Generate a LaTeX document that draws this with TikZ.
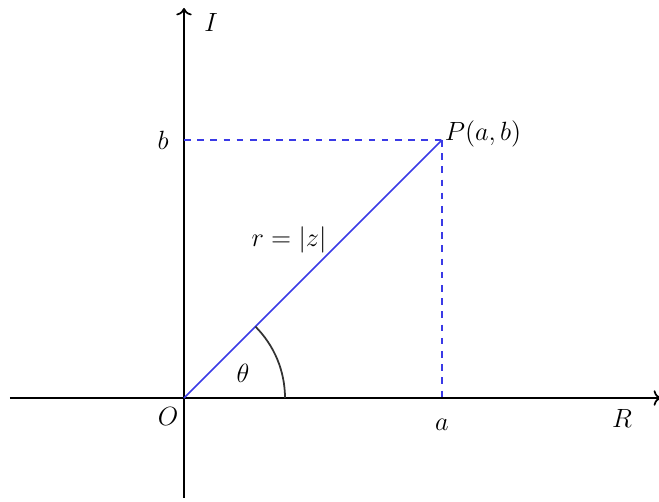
\documentclass[tikz,border=0pt]{standalone}
\usepackage{tikz}
\usetikzlibrary{arrows.meta,positioning}
\usepackage{xcolor}
\definecolor{vecblue}{HTML}{3A3AE6}

\begin{document}
\begin{tikzpicture}[
    x=0.455pt,y=0.455pt,
    axis/.style={->,thick,draw=black},
    vec/.style={thick,draw=vecblue},
    guide/.style={thick,dashed,draw=vecblue},
    lab/.style={font=\large}
]
\useasboundingbox (-184,-104) rectangle (475,398);
\coordinate (O) at (0,0);
\coordinate (xl) at (-174,0);
\coordinate (xr) at (477,0);
\coordinate (yb) at (0,-100);
\coordinate (yt) at (0,390);
\coordinate (P) at (258,258);
\coordinate (A) at (258,0);
\coordinate (B) at (0,258);
\draw[axis] (xl)--(xr);
\draw[axis] (yb)--(yt);
\draw[guide] (B)--(P);
\draw[guide] (P)--(A);
\draw[vec] (O)--(P);
\draw[thick,draw=black!80] (101,0) arc[start angle=0,end angle=45,radius=101];
\node[lab] (lo) at (-16,-18) {$O$};
\node[lab] (la) at (258,-27) {$a$};
\node[lab] (lb) at (-21,258) {$b$};
\node[lab] (lp) at (299,264) {$P(a,b)$};
\node[lab] (li) at (27,376) {$I$};
\node[lab] (lr) at (438,-20) {$R$};
\node[lab] (lt) at (59,25) {$\theta$};
\node[lab] (lz) at (105,158) {$r=|z|$};
\end{tikzpicture}
\end{document}
